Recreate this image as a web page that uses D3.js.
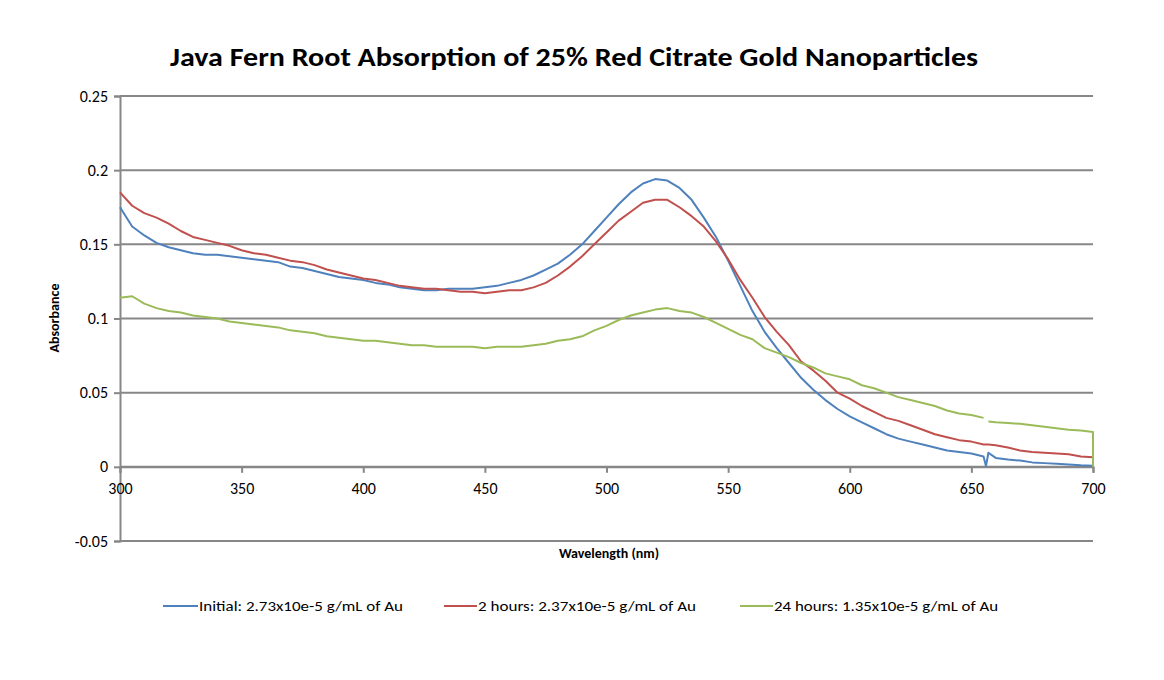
<!DOCTYPE html>
<html><head><meta charset="utf-8">
<script src="https://cdn.jsdelivr.net/npm/d3@7/dist/d3.min.js"></script>
<style>body{margin:0;background:#fff;} svg{display:block;}</style>
</head><body>
<svg id="chart" width="1164" height="680"></svg>
<script>
const title = "Java Fern Root Absorption of 25% Red Citrate Gold Nanoparticles";
const xTicks = [300, 350, 400, 450, 500, 550, 600, 650, 700];
const yTicks = [-0.05, 0, 0.05, 0.1, 0.15, 0.2, 0.25];
const yTickLabels = ["-0.05", "0", "0.05", "0.1", "0.15", "0.2", "0.25"];
const seriesNames = ["Initial: 2.73x10e-5  g/mL of Au", "2 hours: 2.37x10e-5  g/mL of Au", "24 hours: 1.35x10e-5  g/mL of Au"];
const wavelengths = [300,305,310,315,320,325,330,335,340,345,350,355,360,365,370,375,380,385,390,395,400,405,410,415,420,425,430,435,440,445,450,455,460,465,470,475,480,485,490,495,500,505,510,515,520,525,530,535,540,545,550,555,560,565,570,575,580,585,590,595,600,605,610,615,620,625,630,635,640,645,650,655,656,657,660,665,670,675,680,685,690,695,700,700];
const initial = [0.175,0.162,0.156,0.151,0.148,0.146,0.144,0.143,0.143,0.142,0.141,0.140,0.139,0.138,0.135,0.134,0.132,0.130,0.128,0.127,0.126,0.124,0.123,0.121,0.120,0.119,0.119,0.120,0.120,0.120,0.121,0.122,0.124,0.126,0.129,0.133,0.137,0.143,0.150,0.159,0.168,0.177,0.185,0.191,0.194,0.193,0.188,0.180,0.168,0.155,0.139,0.122,0.105,0.091,0.080,0.070,0.060,0.052,0.045,0.039,0.034,0.030,0.026,0.022,0.019,0.017,0.015,0.013,0.011,0.010,0.009,0.007,0.0005,0.0095,0.006,0.005,0.0042,0.003,0.0025,0.002,0.0015,0.001,0.0008,0.0008];
const twoHours = [0.185,0.176,0.171,0.168,0.164,0.159,0.155,0.153,0.151,0.149,0.146,0.144,0.143,0.141,0.139,0.138,0.136,0.133,0.131,0.129,0.127,0.126,0.124,0.122,0.121,0.120,0.120,0.119,0.118,0.118,0.117,0.118,0.119,0.119,0.121,0.124,0.129,0.135,0.142,0.150,0.158,0.166,0.172,0.178,0.180,0.180,0.175,0.169,0.162,0.152,0.140,0.126,0.114,0.101,0.091,0.082,0.071,0.065,0.058,0.050,0.046,0.041,0.037,0.033,0.031,0.028,0.025,0.022,0.020,0.018,0.017,0.015,0.015,0.015,0.0145,0.013,0.011,0.010,0.0095,0.009,0.0085,0.007,0.0065,0.0065];
const twentyFourHours = [0.114,0.115,0.110,0.107,0.105,0.104,0.102,0.101,0.100,0.098,0.097,0.096,0.095,0.094,0.092,0.091,0.090,0.088,0.087,0.086,0.085,0.085,0.084,0.083,0.082,0.082,0.081,0.081,0.081,0.081,0.080,0.081,0.081,0.081,0.082,0.083,0.085,0.086,0.088,0.092,0.095,0.099,0.102,0.104,0.106,0.107,0.105,0.104,0.101,0.097,0.093,0.089,0.086,0.080,0.077,0.074,0.070,0.067,0.063,0.061,0.059,0.055,0.053,0.050,0.047,0.045,0.043,0.041,0.038,0.036,0.035,0.033,null,0.0305,0.030,0.0295,0.029,0.028,0.027,0.026,0.025,0.0245,0.0235,0];
const colors = ["#4F81BD", "#C0504D", "#9BBB59"];

const svg = d3.select("#chart");
const font = "Carlito, Calibri, Lato, 'Open Sans', sans-serif";
const L = 120, R = 1093, T = 96, B = 541;
const x = d3.scaleLinear().domain([300, 700]).range([L, R]);
const y = d3.scaleLinear().domain([-0.05, 0.25]).range([B, T]);
const grid = "#878787";

// gridlines
svg.append("g").selectAll("line").data(yTicks).join("line")
  .attr("x1", L).attr("x2", R).attr("y1", d => y(d)).attr("y2", d => y(d))
  .attr("stroke", grid).attr("stroke-width", 2);

// y axis
const yAxis = svg.append("g").attr("transform", `translate(${L},0)`)
  .call(d3.axisLeft(y).tickValues(yTicks).tickSize(6).tickPadding(6).tickFormat((d, i) => yTickLabels[i]));
yAxis.select(".domain").attr("stroke", grid).attr("stroke-width", 2);
yAxis.selectAll(".tick line").attr("stroke", grid).attr("stroke-width", 2);
yAxis.selectAll(".tick text").attr("font-family", font).attr("font-size", 16).attr("fill", "#000");

// x axis at zero
const xAxis = svg.append("g").attr("transform", `translate(0,${y(0)})`)
  .call(d3.axisBottom(x).tickValues(xTicks).tickSize(6).tickPadding(10).tickFormat(d3.format("d")));
xAxis.select(".domain").attr("stroke", grid).attr("stroke-width", 2);
xAxis.selectAll(".tick line").attr("stroke", grid).attr("stroke-width", 2);
xAxis.selectAll(".tick text").attr("font-family", font).attr("font-size", 16).attr("fill", "#000");

// lines
const seriesData = [initial, twoHours, twentyFourHours];
const line = d3.line().defined(d => d[1] !== null).x(d => x(d[0])).y(d => y(d[1]));
seriesData.forEach((vals, i) => {
  const pts = wavelengths.map((w, j) => [w, vals[j]]);
  svg.append("path").datum(pts).attr("d", line)
    .attr("fill", "none").attr("stroke", colors[i]).attr("stroke-width", 2).attr("stroke-linejoin", "round");
});

// title
svg.append("text").attr("x", 574).attr("y", 66).attr("text-anchor", "middle")
  .attr("font-family", font).attr("font-weight", "bold").attr("font-size", 26)
  .attr("textLength", 808).attr("lengthAdjust", "spacingAndGlyphs").text(title);

// axis titles
svg.append("text").attr("x", 609).attr("y", 558).attr("text-anchor", "middle")
  .attr("font-family", font).attr("font-weight", "bold").attr("font-size", 14).text("Wavelength (nm)");
svg.append("text").attr("transform", "translate(59,318) rotate(-90)").attr("text-anchor", "middle")
  .attr("font-family", font).attr("font-weight", "bold").attr("font-size", 14).text("Absorbance");

// legend
const legendItems = [
  {lx: 163, tx: 199, tw: 204},
  {lx: 444, tx: 478, tw: 218},
  {lx: 740, tx: 774, tw: 224}
];
const lg = svg.append("g");
legendItems.forEach((it, i) => {
  lg.append("line").attr("x1", it.lx).attr("x2", it.tx - 1).attr("y1", 606).attr("y2", 606)
    .attr("stroke", colors[i]).attr("stroke-width", 2);
  lg.append("text").attr("x", it.tx).attr("y", 611).attr("font-family", font).attr("font-size", 14)
    .attr("textLength", it.tw).attr("lengthAdjust", "spacingAndGlyphs").text(seriesNames[i]);
});
</script>
</body></html>
